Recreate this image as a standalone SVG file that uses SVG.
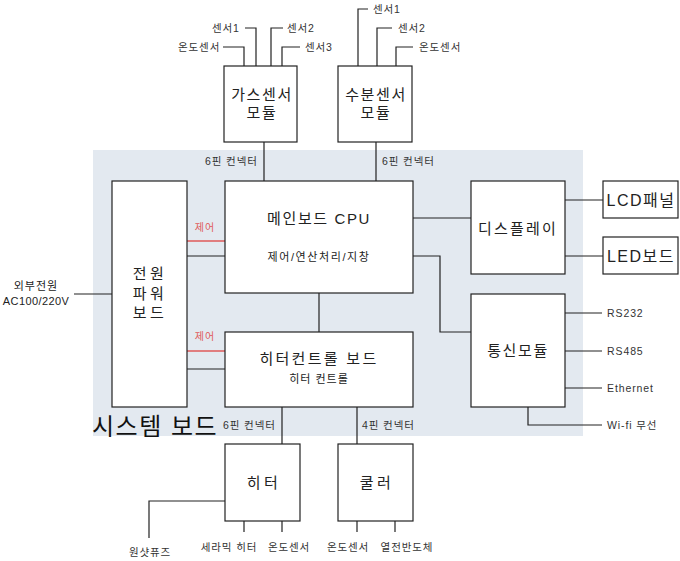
<svg xmlns="http://www.w3.org/2000/svg" width="680" height="561" viewBox="0 0 680 561">
<style>
text{font-family:"Liberation Sans","Noto Sans CJK KR",sans-serif;dominant-baseline:central;fill:#222}
.box{fill:#fff;stroke:#222;stroke-width:1.2}
.w{fill:none;stroke:#222;stroke-width:1.2}
.r{fill:none;stroke:#e05a5a;stroke-width:1.5}
.s{font-size:10.5px;fill:#333;letter-spacing:0.9px}
.m{font-size:15px;text-anchor:middle;letter-spacing:1.6px}
.wide{letter-spacing:3.5px}
.mc{font-size:11px;text-anchor:middle;letter-spacing:1px}
.red{font-size:10px;fill:#e05a5a;text-anchor:middle;letter-spacing:1px}
</style>
<rect x="93" y="150" width="490" height="286" fill="#e3e9f0"/>
<text x="92" y="426" style="font-size:24px;fill:#111;letter-spacing:1.5px">시스템 보드</text>
<g id="connectors">
<path class="w" d="M223 47H244V66M245 28H256V66M271 66V28H283M282 66V47H300"/>
<path class="w" d="M358 66V9H368M377 66V28H392M396 66V47H413"/>
<path class="w" d="M264 142V181M376 142V181"/>
<path class="w" d="M74 294H112"/>
<path class="r" d="M187 241H225M187 351H225"/>
<path class="w" d="M187 256H225M187 369H225"/>
<path class="w" d="M319 293V332"/>
<path class="w" d="M413 218H471M413 256H440V332H471"/>
<path class="w" d="M565 200H603M565 256H603"/>
<path class="w" d="M565 313H602M565 351H602M565 388H602M528 407V425H602"/>
<path class="w" d="M282 407V444M357 407V444"/>
<path class="w" d="M225 501H149V538M244 521V532M282 521V532M357 521V532M395 521V532"/>
</g>
<g id="labels">
<text class="s" x="178" y="47">온도센서</text>
<text class="s" x="212" y="28">센서1</text>
<text class="s" x="287" y="28">센서2</text>
<text class="s" x="305" y="47">센서3</text>
<text class="s" x="373" y="9">센서1</text>
<text class="s" x="398" y="28">센서2</text>
<text class="s" x="419" y="47">온도센서</text>
<text class="s" x="205" y="161">6핀 컨넥터</text>
<text class="s" x="382" y="161">6핀 컨넥터</text>
<text class="s" x="223" y="425">6핀 컨넥터</text>
<text class="s" x="362" y="425">4핀 컨넥터</text>
<text class="mc" x="36" y="286">외부전원</text>
<text class="mc" x="36" y="301" style="letter-spacing:0.4px">AC100/220V</text>
<text class="red" x="205" y="227">제어</text>
<text class="red" x="205" y="336">제어</text>
<text class="s" x="607" y="313">RS232</text>
<text class="s" x="607" y="351">RS485</text>
<text class="s" x="607" y="388">Ethernet</text>
<text class="s" x="607" y="425">Wi-fi 무선</text>
<text class="s" x="150" y="552" text-anchor="middle">원샷퓨즈</text>
<text class="s" x="229" y="547" text-anchor="middle">세라믹 히터</text>
<text class="s" x="289" y="547" text-anchor="middle">온도센서</text>
<text class="s" x="348" y="547" text-anchor="middle">온도센서</text>
<text class="s" x="407" y="547" text-anchor="middle">열전반도체</text>
</g>
<g id="gas"><rect class="box" x="224" y="66" width="73" height="76"/><text class="m" x="262" y="94">가스센서</text><text class="m" x="262" y="112">모듈</text></g>
<g id="moisture"><rect class="box" x="338" y="66" width="74" height="76"/><text class="m" x="376" y="94">수분센서</text><text class="m" x="376" y="112">모듈</text></g>
<g id="power"><rect class="box" x="112" y="181" width="75" height="226"/><text class="m wide" x="150" y="273">전원</text><text class="m wide" x="150" y="293">파워</text><text class="m wide" x="150" y="312">보드</text></g>
<g id="cpu"><rect class="box" x="225" y="181" width="188" height="112"/><text class="m" x="319" y="218">메인보드 CPU</text><text class="mc" x="319" y="257" style="letter-spacing:1.6px">제어/연산처리/지창</text></g>
<g id="heaterctrl"><rect class="box" x="225" y="332" width="188" height="75"/><text class="m" x="319" y="358" style="letter-spacing:2.3px">히터컨트롤 보드</text><text class="mc" x="319" y="379">히터 컨트롤</text></g>
<g id="display"><rect class="box" x="471" y="181" width="94" height="93"/><text class="m" x="518" y="228" style="letter-spacing:2.2px">디스플레이</text></g>
<g id="comm"><rect class="box" x="471" y="294" width="94" height="113"/><text class="m" x="518" y="350">통신모듈</text></g>
<g id="lcd"><rect class="box" x="603" y="181" width="75" height="37"/><text class="m" x="641" y="200" style="font-size:16px;letter-spacing:1.5px">LCD패널</text></g>
<g id="led"><rect class="box" x="603" y="237" width="75" height="37"/><text class="m" x="641" y="256" style="font-size:16px;letter-spacing:1.5px">LED보드</text></g>
<g id="heater"><rect class="box" x="225" y="444" width="75" height="77"/><text class="m wide" x="264" y="482">히터</text></g>
<g id="cooler"><rect class="box" x="338" y="444" width="75" height="77"/><text class="m wide" x="377" y="482">쿨러</text></g>
</svg>
